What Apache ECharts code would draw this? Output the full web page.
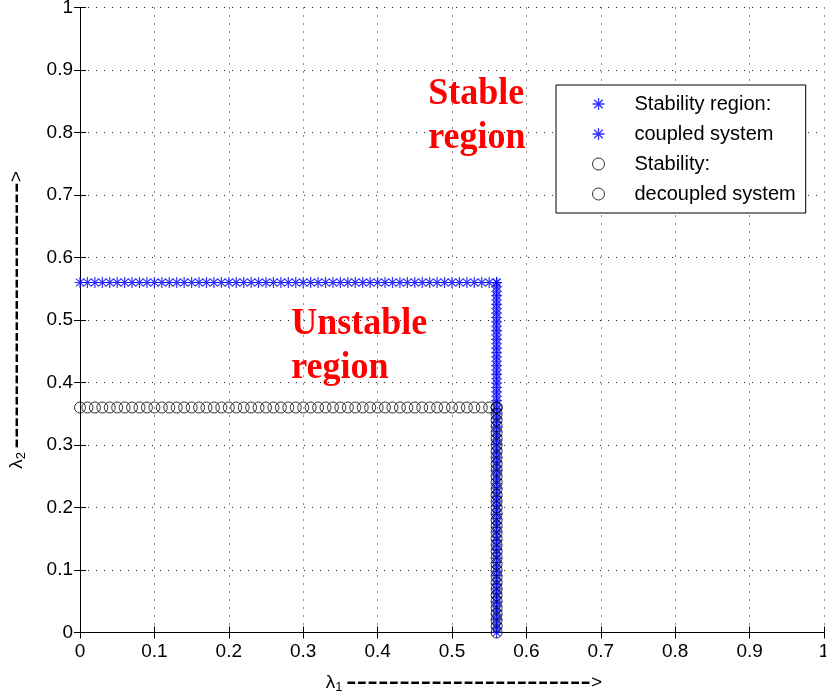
<!DOCTYPE html>
<html>
<head>
<meta charset="utf-8">
<script src="https://cdn.jsdelivr.net/npm/echarts@6/dist/echarts.min.js"></script>
<style>
  html, body { margin: 0; padding: 0; background: #fff; }
  #chart { width: 826px; height: 698px; }
</style>
</head>
<body>
<div id="chart"></div>
<script>
// λ1 samples along the horizontal boundaries
const lambda1Samples = [0, 0.01, 0.02, 0.03, 0.04, 0.05, 0.06, 0.07, 0.08, 0.09,
  0.1, 0.11, 0.12, 0.13, 0.14, 0.15, 0.16, 0.17, 0.18, 0.19,
  0.2, 0.21, 0.22, 0.23, 0.24, 0.25, 0.26, 0.27, 0.28, 0.29,
  0.3, 0.31, 0.32, 0.33, 0.34, 0.35, 0.36, 0.37, 0.38, 0.39,
  0.4, 0.41, 0.42, 0.43, 0.44, 0.45, 0.46, 0.47, 0.48, 0.49,
  0.5, 0.51, 0.52, 0.53, 0.54, 0.55, 0.56];

// coupled system: boundary levels
const coupledLambda2Level = 0.56;
const coupledLambda1Level = 0.56;
const coupledLambda2Samples = [0.56, 0.553, 0.546, 0.539, 0.532, 0.525, 0.518, 0.511, 0.504, 0.497,
  0.49, 0.483, 0.476, 0.469, 0.462, 0.455, 0.448, 0.441, 0.434, 0.427,
  0.42, 0.413, 0.406, 0.399, 0.392, 0.385, 0.378, 0.371, 0.364, 0.357,
  0.35, 0.343, 0.336, 0.329, 0.322, 0.315, 0.308, 0.301, 0.294, 0.287,
  0.28, 0.273, 0.266, 0.259, 0.252, 0.245, 0.238, 0.231, 0.224, 0.217,
  0.21, 0.203, 0.196, 0.189, 0.182, 0.175, 0.168, 0.161, 0.154, 0.147,
  0.14, 0.133, 0.126, 0.119, 0.112, 0.105, 0.098, 0.091, 0.084, 0.077,
  0.07, 0.063, 0.056, 0.049, 0.042, 0.035, 0.028, 0.021, 0.014, 0.007, 0];

// decoupled system: boundary levels
const decoupledLambda2Level = 0.36;
const decoupledLambda1Level = 0.56;
const decoupledLambda2Samples = [0.36, 0.35, 0.34, 0.33, 0.32, 0.31, 0.3, 0.29, 0.28, 0.27,
  0.26, 0.25, 0.24, 0.23, 0.22, 0.21, 0.2, 0.19, 0.18, 0.17,
  0.16, 0.15, 0.14, 0.13, 0.12, 0.11, 0.1, 0.09, 0.08, 0.07,
  0.06, 0.05, 0.04, 0.03, 0.02, 0.01, 0];

const seriesNames = ['Stability region:', 'coupled system', 'Stability:', 'decoupled system'];
const axisTicks = { min: 0, max: 1, interval: 0.1 };

// eight-armed asterisk marker built from four thin bars
const w = 0.11, a = 0.7071, d = w / Math.SQRT2;
const starPath = 'path://' +
  `M${-w},-1L${w},-1L${w},1L${-w},1Z` +
  `M-1,${-w}L1,${-w}L1,${w}L-1,${w}Z` +
  `M${-a + d},${-a - d}L${a + d},${a - d}L${a - d},${a + d}L${-a - d},${-a + d}Z` +
  `M${-a - d},${a - d}L${a - d},${-a - d}L${a + d},${-a + d}L${-a + d},${a + d}Z`;

const horizontal = (xs, level) => xs.map(x => [x, level]);
const vertical = (ys, level) => ys.map(y => [level, y]);

const font = "'Liberation Sans', Arial, sans-serif";
const xDashes = '-----------------------';
const yDashes = '-------------------------';

const starStyle = {
  type: 'scatter', clip: false, symbol: starPath, symbolSize: 11,
  itemStyle: { color: '#0000ff' }
};
const circleStyle = {
  type: 'scatter', clip: false, symbol: 'circle', symbolSize: 11,
  itemStyle: { color: 'rgba(0,0,0,0)', borderColor: '#000', borderWidth: 1 }
};

const axisCommon = {
  type: 'value', ...axisTicks,
  axisLine: { show: true, lineStyle: { color: '#000', width: 1 } },
  axisTick: { show: true, inside: true, length: 6, lineStyle: { color: '#000' } },
  splitLine: { show: false },
  axisLabel: { show: false }
};

const nameRich = {
  l: { fontFamily: font, fontSize: 19, color: '#000' },
  s: { fontFamily: font, fontSize: 13, color: '#000', padding: [10, 0, 0, 0] },
  d: { fontFamily: font, fontSize: 32, color: '#000', lineHeight: 22 },
  a: { fontFamily: font, fontSize: 19, color: '#000' }
};

const option = {
  animation: false,
  backgroundColor: '#fff',
  grid: { left: 80, right: 2, top: 7.5, bottom: 65.5, containLabel: false, outerBoundsMode: 'none' },
  xAxis: [
    {
      ...axisCommon,
      position: 'bottom',
      axisLabel: { show: true, color: '#000', fontFamily: font, fontSize: 19, margin: 10 },
      splitLine: { show: true, lineStyle: { color: '#222', width: 1, type: [1, 7] } },
      name: `{l|λ}{s|1} {d|${xDashes}}{a|>}`,
      nameLocation: 'middle',
      nameGap: 34,
      nameTextStyle: { padding: [0, 0, 0, 24], rich: nameRich }
    },
    { ...axisCommon, position: 'top' }
  ],
  yAxis: [
    {
      ...axisCommon,
      position: 'left',
      axisLabel: { show: true, color: '#000', fontFamily: font, fontSize: 19, margin: 7 },
      splitLine: { show: true, lineStyle: { color: '#222', width: 1, type: [1, 7] } },
      name: `{l|λ}{s|2} {d|${yDashes}}{a|>}`,
      nameLocation: 'middle',
      nameRotate: 90,
      nameGap: 52,
      nameTextStyle: { padding: [0, 0, 0, 0], rich: nameRich }
    },
    { ...axisCommon, position: 'right' }
  ],
  legend: {
    orient: 'vertical',
    left: 556, top: 85,
    padding: [8, 10, 8, 36],
    itemWidth: 62, itemHeight: 12, itemGap: 8,
    backgroundColor: '#fff',
    borderColor: '#000', borderWidth: 1, borderRadius: 0,
    selectedMode: false,
    itemStyle: { borderWidth: 1 },
    textStyle: { fontFamily: font, fontSize: 20, lineHeight: 22, color: '#000' },
    data: seriesNames
  },
  series: [
    { ...starStyle, name: seriesNames[0], data: horizontal(lambda1Samples, coupledLambda2Level) },
    { ...starStyle, name: seriesNames[1], data: vertical(coupledLambda2Samples, coupledLambda1Level) },
    { ...circleStyle, name: seriesNames[2], data: horizontal(lambda1Samples, decoupledLambda2Level) },
    { ...circleStyle, name: seriesNames[3], data: vertical(decoupledLambda2Samples, decoupledLambda1Level) }
  ]
};

const chart = echarts.init(document.getElementById('chart'), null, { renderer: 'canvas' });
chart.setOption(option);

// region annotations, anchored in data space
const annotations = [
  { text: 'Stable\nregion', at: [0.468, 0.826] },
  { text: 'Unstable\nregion', at: [0.284, 0.458] }
];
chart.setOption({
  graphic: annotations.map(item => {
    const p = chart.convertToPixel({ xAxisIndex: 0, yAxisIndex: 0 }, item.at);
    return {
      type: 'text', x: p[0], y: p[1], scaleY: 1.08, z: 100,
      style: {
        text: item.text, fill: '#ff0000',
        font: "bold 36px 'Liberation Serif', 'Times New Roman', serif",
        lineHeight: 41, align: 'left', verticalAlign: 'middle'
      }
    };
  })
});
</script>
</body>
</html>
